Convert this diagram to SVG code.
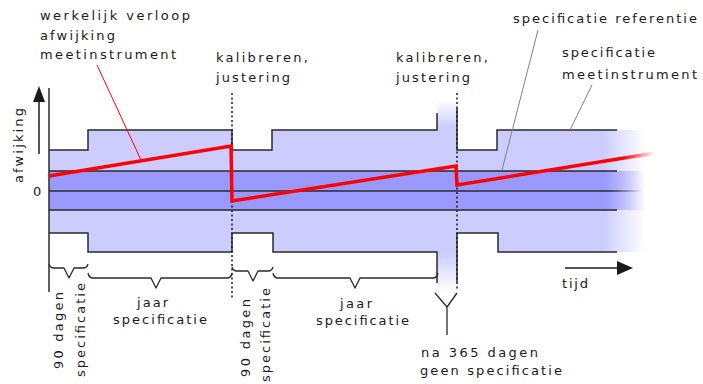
<svg xmlns="http://www.w3.org/2000/svg" width="703" height="384" viewBox="0 0 703 384">
<style>
text{font-family:"DejaVu Sans","Liberation Sans",sans-serif;font-size:13px;fill:#1a1a1a}
.ol{fill:none;stroke:#2a2a2a;stroke-width:1.5}
.br{fill:none;stroke:#2a2a2a;stroke-width:1.3;stroke-linejoin:round}
.dot{fill:none;stroke:#1a1a1a;stroke-width:1.5;stroke-dasharray:2 2.5}
.ann{fill:none;stroke:#808080;stroke-width:1}
</style>
<defs>
<linearGradient id="fadeL" gradientUnits="userSpaceOnUse" x1="603" y1="0" x2="645" y2="0"><stop offset="0" stop-color="#ccccff"/><stop offset="1" stop-color="#ccccff" stop-opacity="0"/></linearGradient>
<linearGradient id="fadeD" gradientUnits="userSpaceOnUse" x1="603" y1="0" x2="645" y2="0"><stop offset="0" stop-color="#9999ff"/><stop offset="1" stop-color="#9999ff" stop-opacity="0"/></linearGradient>
<linearGradient id="fadeK" gradientUnits="userSpaceOnUse" x1="610" y1="0" x2="642" y2="0"><stop offset="0" stop-color="#2a2a2a"/><stop offset="1" stop-color="#2a2a2a" stop-opacity="0"/></linearGradient>
<linearGradient id="fadeR" gradientUnits="userSpaceOnUse" x1="622" y1="0" x2="655" y2="0"><stop offset="0" stop-color="#ff0000"/><stop offset="1" stop-color="#ff0000" stop-opacity="0"/></linearGradient>
<linearGradient id="gapV" gradientUnits="userSpaceOnUse" x1="0" y1="100" x2="0" y2="292"><stop offset="0" stop-color="#ccccff" stop-opacity="0"/><stop offset="0.14" stop-color="#ccccff"/><stop offset="0.8" stop-color="#ccccff"/><stop offset="1" stop-color="#ccccff" stop-opacity="0"/></linearGradient>
</defs>

<g id="bands">
<rect x="437" y="100" width="20" height="192" fill="url(#gapV)"/>
<path fill="url(#fadeL)" d="M49,150 H88 V130 H232 V150 H272 V130 H457 V150 H497 V130 H645 V252 H498 V233 H457 V252 H273 V233 H232 V252 H88 V233 H49 Z"/>
<rect x="49" y="171" width="596" height="39" fill="url(#fadeD)"/>
</g>

<g id="outlines">
<path class="ol" d="M49,150 H88 V130 H232 V150 H272 V130 H437 V113"/>
<path class="ol" d="M457,108 V150 H497 V130 H617"/>
<path class="ol" d="M49,233 H88 V252 H232 V233 H273 V252 H437 V283"/>
<path class="ol" d="M457,282 V233 H498 V252 H617"/>
<path class="ol" d="M49,171 H617 M49,210 H617"/>
<path fill="none" stroke="url(#fadeK)" stroke-width="1.5" d="M49,191 H645"/>
<path class="ol" d="M49,88 V292"/>
</g>

<g id="calibration">
<path class="dot" d="M232,93 V298"/>
<path class="dot" d="M457,93 V290"/>
</g>

<g id="deviation">
<polyline fill="none" stroke="url(#fadeR)" stroke-width="3.5" stroke-linejoin="miter" points="49,176 231,146 232,201 456,166 457,185 655,153"/>
</g>

<g id="connectors">
<path fill="none" stroke="#ff0000" stroke-width="1" d="M97,65 L141,160"/>
<path class="ann" d="M538,30 L502,170"/>
<path class="ann" d="M592,85 L570,130"/>
<path fill="none" stroke="#1a1a1a" stroke-width="1.5" d="M39,154 V100"/>
<polygon fill="#1a1a1a" points="39,86 33,102 45,102"/>
<path fill="none" stroke="#1a1a1a" stroke-width="1.5" d="M565,268 H619"/>
<polygon fill="#1a1a1a" points="633,268 617,261 617,275"/>
</g>

<g id="braces">
<path class="br" d="M49,264 Q50,268 54,268 L64,268 L69,278 L74,268 L83,268 Q87,268 88,264"/>
<path class="br" d="M88,273 Q89,278 93,278 L151,278 L156,288 L161,278 L227,278 Q231,278 232,273"/>
<path class="br" d="M232,267 Q233,271 237,271 L248,271 L253,281 L258,271 L268,271 Q272,271 273,267"/>
<path class="br" d="M273,273 Q274,278 278,278 L350,278 L355,288 L360,278 L433,278 Q437,278 438,273"/>
<path class="br" d="M435,293 L447,307 L457,293 M447,307 V335"/>
</g>

<g id="labels">
<text x="40" y="20" textLength="150" lengthAdjust="spacing">werkelijk verloop</text>
<text x="40" y="40" textLength="75" lengthAdjust="spacing">afwijking</text>
<text x="40" y="59" textLength="136" lengthAdjust="spacing">meetinstrument</text>
<text x="216" y="62" textLength="92" lengthAdjust="spacing">kalibreren,</text>
<text x="216" y="82" textLength="74" lengthAdjust="spacing">justering</text>
<text x="396" y="62" textLength="92" lengthAdjust="spacing">kalibreren,</text>
<text x="396" y="82" textLength="74" lengthAdjust="spacing">justering</text>
<text x="513" y="23" textLength="184" lengthAdjust="spacing">specificatie referentie</text>
<text x="562" y="57" textLength="93" lengthAdjust="spacing">specificatie</text>
<text x="562" y="79" textLength="135" lengthAdjust="spacing">meetinstrument</text>
<text x="33" y="196">0</text>
<text transform="translate(23,183) rotate(-90)" textLength="75" lengthAdjust="spacing">afwijking</text>
<text x="137" y="307" textLength="31" lengthAdjust="spacing">jaar</text>
<text x="113" y="324" textLength="94" lengthAdjust="spacing">specificatie</text>
<text x="340" y="308" textLength="32" lengthAdjust="spacing">jaar</text>
<text x="316" y="325" textLength="93" lengthAdjust="spacing">specificatie</text>
<text transform="translate(63,369) rotate(-90)" textLength="77" lengthAdjust="spacing">90 dagen</text>
<text transform="translate(85,377) rotate(-90)" textLength="94" lengthAdjust="spacing">specificatie</text>
<text transform="translate(250,377) rotate(-90)" textLength="78" lengthAdjust="spacing">90 dagen</text>
<text transform="translate(270,382) rotate(-90)" textLength="94" lengthAdjust="spacing">specificatie</text>
<text x="562" y="288" textLength="26" lengthAdjust="spacing">tijd</text>
<text x="421" y="357" textLength="117" lengthAdjust="spacing">na 365 dagen</text>
<text x="420" y="375" textLength="142" lengthAdjust="spacing">geen specificatie</text>
</g>
</svg>
